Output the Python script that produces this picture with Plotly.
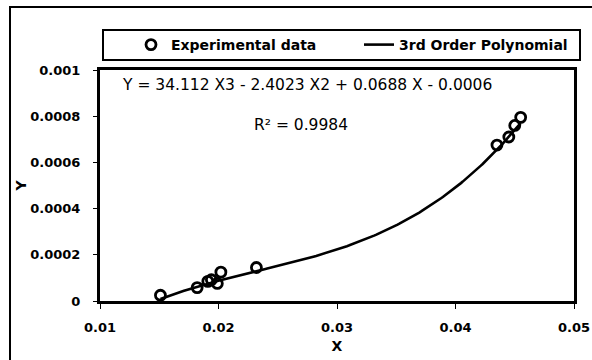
import numpy as np
import plotly.graph_objects as go

# Measured points
x_exp = [0.0151, 0.0182, 0.0191, 0.0194, 0.0199, 0.0202, 0.0232, 0.0435, 0.0445, 0.0450, 0.0455]
y_exp = [0.000025, 0.000058, 0.000085, 0.000092, 0.000076, 0.000125, 0.000145,
         0.000675, 0.000710, 0.000760, 0.000795]

# Cubic fit coefficients (highest power first)
poly_coef = [34.112, -2.4023, 0.0688, -0.0006]
r_squared = 0.9984

x_ticks = [0.01, 0.02, 0.03, 0.04, 0.05]
x_tick_text = ["0.01", "0.02", "0.03", "0.04", "0.05"]
y_ticks = [0, 0.0002, 0.0004, 0.0006, 0.0008, 0.001]
y_tick_text = ["0", "0.0002", "0.0004", "0.0006", "0.0008", "0.001"]

x_fit = np.linspace(min(x_exp), max(x_exp), 200)
y_fit = np.polyval(poly_coef, x_fit)

FONT = "DejaVu Sans"

fig = go.Figure()
fig.add_trace(go.Scatter(
    x=x_exp, y=y_exp, mode="markers", name="Experimental data",
    marker=dict(symbol="circle-open", size=10, color="black", line=dict(width=2.8, color="black")),
))
fig.add_trace(go.Scatter(
    x=x_fit, y=y_fit, mode="lines", name="3rd Order Polynomial",
    line=dict(color="black", width=2.6),
))

eq_text = "Y = {:.3f} X3 - {:.4f} X2 + {:.4f} X - {:.4f}".format(
    poly_coef[0], -poly_coef[1], poly_coef[2], -poly_coef[3])
fig.add_annotation(x=0.042, y=0.000935, xref="paper", yref="y", text=eq_text,
                   showarrow=False, xanchor="left", yanchor="middle",
                   font=dict(family=FONT, size=15.5, color="black"))
fig.add_annotation(x=0.424, y=0.000762, xref="paper", yref="y",
                   text="R² = {:.4f}".format(r_squared),
                   showarrow=False, xanchor="center", yanchor="middle",
                   font=dict(family=FONT, size=15.5, color="black"))

# legend frame and outer chart frame
fig.add_shape(type="rect", xref="paper", yref="paper",
              x0=(103 - 100) / 474, x1=(580 - 100) / 474,
              y0=(301 - 60) / 231, y1=(301 - 30) / 231,
              line=dict(color="black", width=2), fillcolor="white", layer="below")
fig.add_shape(type="rect", xref="paper", yref="paper",
              x0=(10 - 100) / 474, x1=1.3, y0=-0.6, y1=(301 - 7) / 231,
              line=dict(color="black", width=2), layer="below")

fig.update_layout(
    width=592, height=360,
    margin=dict(l=100, r=18, t=70, b=59, autoexpand=False),
    paper_bgcolor="white", plot_bgcolor="white",
    font=dict(family=FONT, color="black"),
    showlegend=True,
    legend=dict(orientation="h", x=(131 - 100) / 474, xanchor="left",
                y=(301 - 45) / 231, yanchor="middle",
                bgcolor="rgba(0,0,0,0)", borderwidth=0,
                entrywidth=183, entrywidthmode="pixels",
                font=dict(family=FONT, size=14, color="black", weight="bold")),
    xaxis=dict(range=[0.01, 0.05], tickvals=x_ticks, ticktext=x_tick_text,
               showgrid=False, zeroline=False, showline=True, linecolor="black",
               linewidth=3, mirror=True, ticks="outside", ticklen=5, tickwidth=1,
               tickcolor="black", ticklabelstandoff=7,
               tickfont=dict(family=FONT, size=13, weight="bold"),
               title=dict(text="X", standoff=8, font=dict(family=FONT, size=14, weight="bold"))),
    yaxis=dict(range=[0, 0.001], tickvals=y_ticks, ticktext=y_tick_text,
               showgrid=False, zeroline=False, showline=True, linecolor="black",
               linewidth=3, mirror=True, ticks="outside", ticklen=4, tickwidth=1,
               tickcolor="black", ticklabelstandoff=10,
               tickfont=dict(family=FONT, size=13, weight="bold"),
               title=dict(text="Y", standoff=1, font=dict(family=FONT, size=14, weight="bold"))),
)

fig.write_html("out.html")
